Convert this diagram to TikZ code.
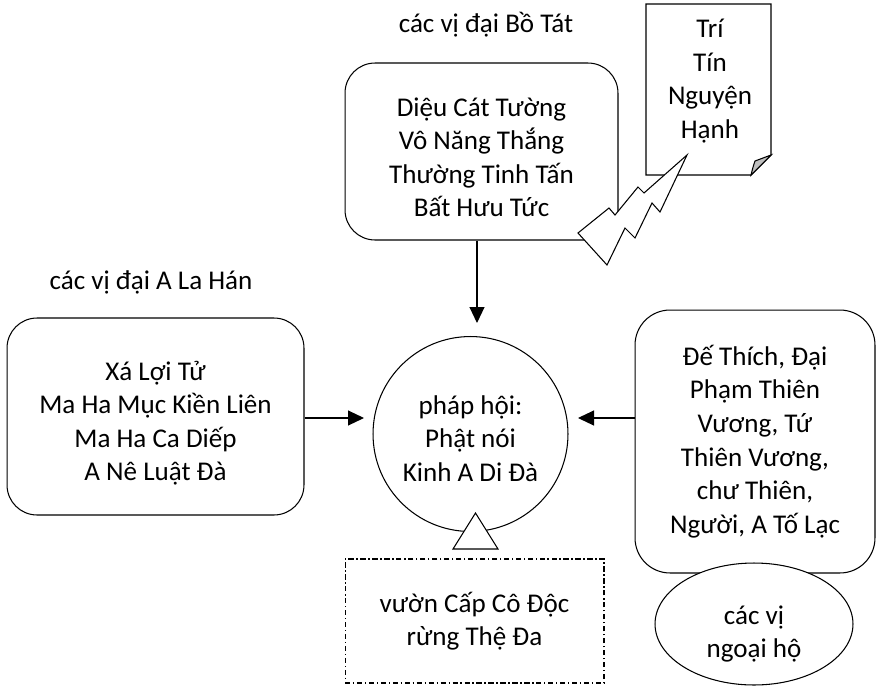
\documentclass[tikz,border=0pt]{standalone}
\usepackage{fontspec}
\setmainfont{Carlito}
\usepackage{tikz}
\usetikzlibrary{shapes}
\usetikzlibrary{arrows.meta}
\newcommand{\dropto}[1]{\rule{0pt}{#1}}

\begin{document}
\begin{tikzpicture}[x=0.02cm, y=-0.02cm, line width=0.6pt,
	every node/.style={font=\fontsize{15.4}{19.1}\selectfont, align=center, inner sep=0pt},
	rbox/.style={draw, fill=white, rounded corners=0.6cm},
	arr/.style={-{Triangle[length=0.32cm, width=0.3cm]}}]
	\useasboundingbox (0,0) rectangle (876,687);
	\node (bosatlbl) at (486,25) {các vị đại Bồ Tát};
	\node[rbox, minimum width=5.46cm, minimum height=3.54cm] (bosat) at (481.5,151.5) {\dropto{17pt}Diệu Cát Tường\\Vô Năng Thắng\\Thường Tinh Tấn\\Bất Hưu Tức};
	\draw[fill=white] (646,4) -- (771,4) -- (771,155) -- (751,175) -- (646,175) -- cycle;
	\draw[fill=black!25] (751,175) .. controls (753,167) .. (755,161) -- (771,155) -- cycle;
	\node (hanh) at (710,81) {Trí\\Tín\\Nguyện\\Hạnh};
	\draw[fill=white] (687,155) -- (644,193) -- (638,187) -- (615,215) -- (609,208) -- (578,233) -- (607,265) -- (625,228) -- (635,238) -- (652,203) -- (660,212) -- cycle;
	\node (lahanlbl) at (151,282) {các vị đại A La Hán};
	\node[rbox, minimum width=5.94cm, minimum height=3.94cm] (lahan) at (155.5,416.5) {\dropto{18.5pt}Xá Lợi Tử\\Ma Ha Mục Kiền Liên\\Ma Ha Ca Diếp\\A Nê Luật Đà};
	\node[draw, circle, minimum size=3.9cm] (phaphoi) at (470.5,434) {\dropto{16pt}pháp hội:\\Phật nói\\Kinh A Di Đà};
	\draw[fill=white] (475.5,513) -- (498,549) -- (453,549) -- cycle;
	\node[draw, dash pattern=on 3pt off 1.5pt on 0.8pt off 1.5pt, minimum width=5.18cm, minimum height=2.48cm] (vuon) at (474.5,621) {vườn Cấp Cô Độc\\rừng Thệ Đa};
	\node[rbox, rounded corners=0.7cm, minimum width=4.8cm, minimum height=5.26cm] (thien) at (755,441.5) {Đế Thích, Đại\\Phạm Thiên\\Vương, Tứ\\Thiên Vương,\\chư Thiên,\\Người, A Tố Lạc};
	\node[draw, fill=white, ellipse, minimum width=3.96cm, minimum height=2.44cm] (ngoaiho) at (754,624) {\dropto{22pt}các vị\\ngoại hộ};
	\coordinate (intop) at (477,323);
	\coordinate (inleft) at (364,418);
	\coordinate (inright) at (578,418);
	\draw[arr] (bosat.south -| intop) -- (intop);
	\draw[arr] (lahan.east |- inleft) -- (inleft);
	\draw[arr] (thien.west |- inright) -- (inright);
\end{tikzpicture}
\end{document}
